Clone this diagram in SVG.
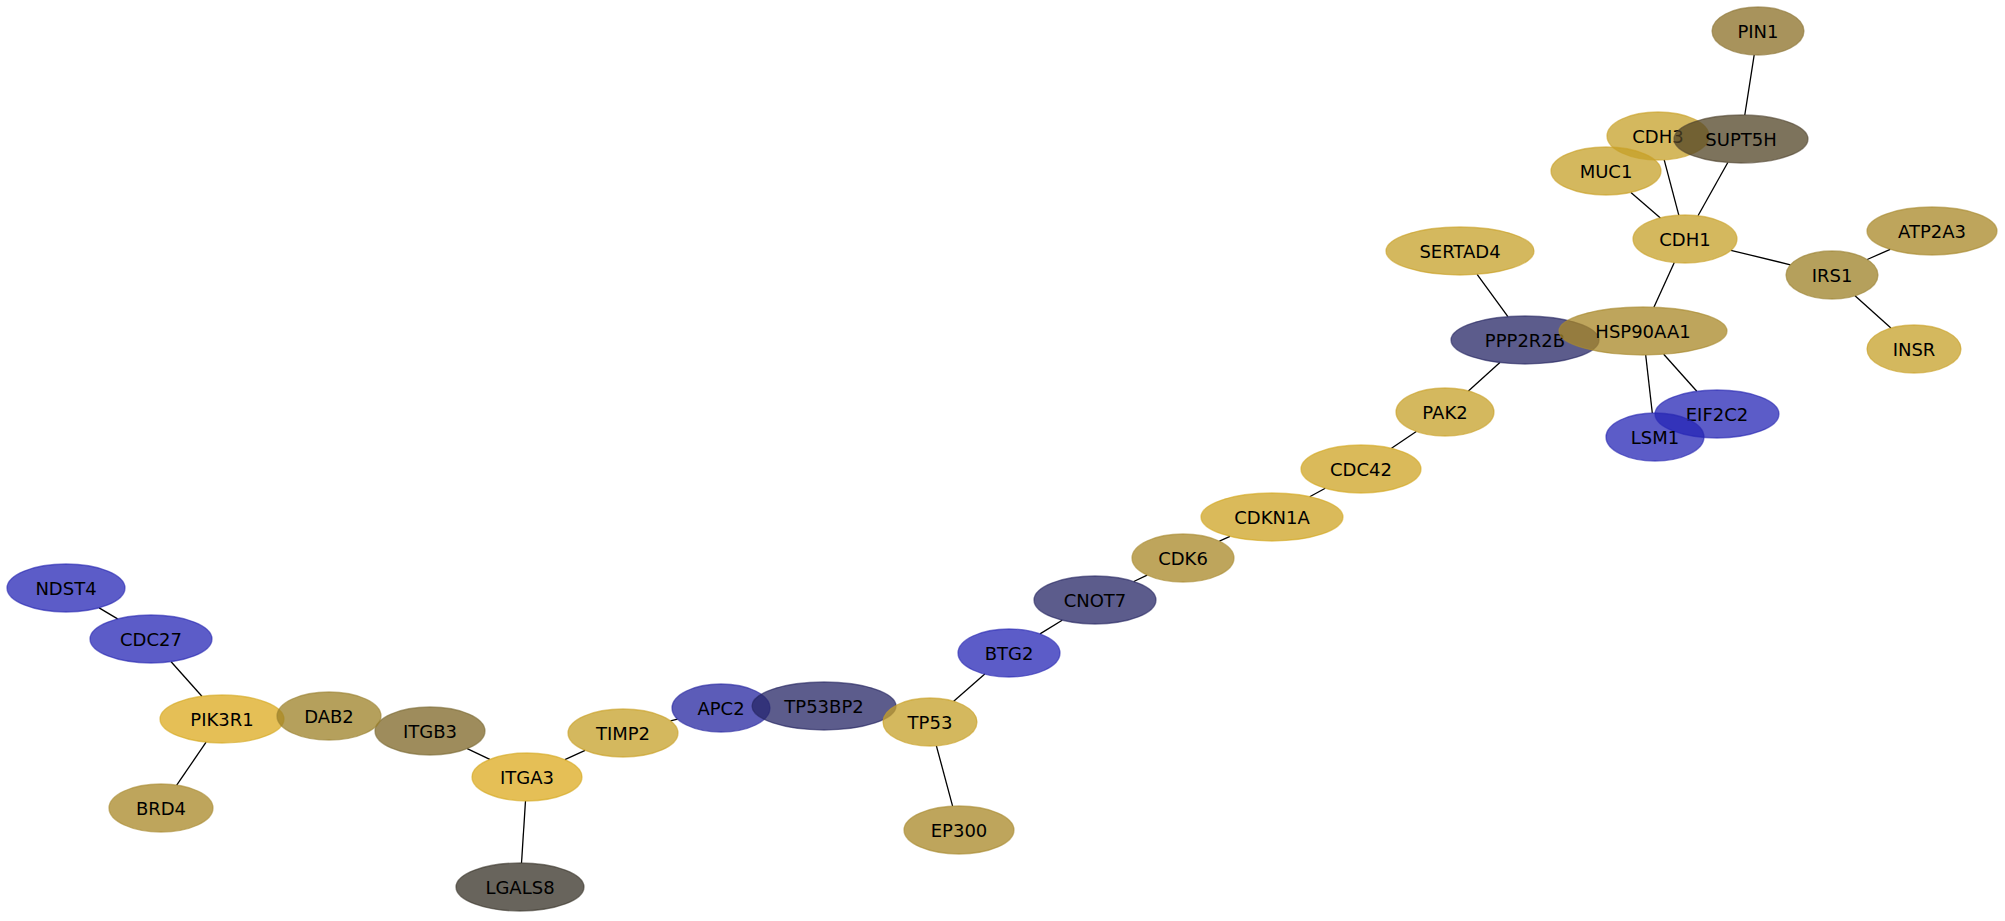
<svg xmlns="http://www.w3.org/2000/svg" width="2005" height="921" viewBox="0 0 2005 921">
<style>
.e{stroke:#000;stroke-width:1.3;fill:none}
ellipse{stroke-width:1.3}
.y{fill:rgb(198,160,40);fill-opacity:.75;stroke:#c9a025;stroke-opacity:.6}
.yb{fill:rgb(205,163,35);fill-opacity:.75;stroke:#d4a820;stroke-opacity:.6}
.yc{fill:rgb(220,170,30);fill-opacity:.75;stroke:#d4a820;stroke-opacity:.6}
.t{fill:rgb(168,135,38);fill-opacity:.75;stroke:#a88a30;stroke-opacity:.6}
.t2{fill:rgb(156,128,38);fill-opacity:.75;stroke:#9a8030;stroke-opacity:.6}
.p{fill:rgb(139,111,38);fill-opacity:.75;stroke:#8c7535;stroke-opacity:.6}
.g{fill:rgb(126,102,38);fill-opacity:.75;stroke:#7c6a35;stroke-opacity:.6}
.s{fill:rgb(82,68,38);fill-opacity:.75;stroke:#504530;stroke-opacity:.6}
.l{fill:rgb(54,48,38);fill-opacity:.75;stroke:#3a352c;stroke-opacity:.6}
.n{fill:rgb(38,38,102);fill-opacity:.75;stroke:#262660;stroke-opacity:.6}
.b{fill:rgb(38,38,182);fill-opacity:.75;stroke:#2626b0;stroke-opacity:.6}
.b2{fill:rgb(38,38,160);fill-opacity:.75;stroke:#2626a0;stroke-opacity:.6}
text{font-family:"DejaVu Sans",sans-serif;font-size:18px;fill:#000;text-anchor:middle;dominant-baseline:central}
</style>
<g id="edges">
<line class="e" x1="1754.2" y1="54.9" x2="1744.8" y2="115"/>
<line class="e" x1="1664.2" y1="159.8" x2="1678.8" y2="215.2"/>
<line class="e" x1="1727.8" y1="162.5" x2="1698" y2="215.8"/>
<line class="e" x1="1630.9" y1="192.4" x2="1660.4" y2="217.9"/>
<line class="e" x1="1730.9" y1="250.3" x2="1790.4" y2="264.8"/>
<line class="e" x1="1867.2" y1="259.5" x2="1890.2" y2="249.4"/>
<line class="e" x1="1855" y1="295.8" x2="1890.9" y2="328.1"/>
<line class="e" x1="1674.3" y1="262.5" x2="1653.9" y2="307.2"/>
<line class="e" x1="1645.7" y1="355" x2="1652.3" y2="413"/>
<line class="e" x1="1663.7" y1="354.3" x2="1696.8" y2="391.3"/>
<line class="e" x1="1477.1" y1="274.4" x2="1507.9" y2="316.6"/>
<line class="e" x1="1499.9" y1="362.6" x2="1468.4" y2="390.9"/>
<line class="e" x1="1416.3" y1="431.5" x2="1391.5" y2="448.3"/>
<line class="e" x1="1325.3" y1="488.3" x2="1309.7" y2="496.7"/>
<line class="e" x1="1230" y1="536.4" x2="1219.4" y2="541.2"/>
<line class="e" x1="1147.2" y1="575.1" x2="1133.8" y2="581.5"/>
<line class="e" x1="1062.2" y1="620.2" x2="1040" y2="633.9"/>
<line class="e" x1="984.8" y1="674.1" x2="953.7" y2="701.3"/>
<line class="e" x1="936.4" y1="745.8" x2="952.6" y2="806.2"/>
<line class="e" x1="677.5" y1="719.1" x2="670.5" y2="720.9"/>
<line class="e" x1="585.1" y1="750.4" x2="564.9" y2="759.6"/>
<line class="e" x1="525.5" y1="801" x2="521.5" y2="863"/>
<line class="e" x1="489.8" y1="759.3" x2="467.2" y2="748.7"/>
<line class="e" x1="201.9" y1="696.3" x2="171.1" y2="661.7"/>
<line class="e" x1="206.1" y1="742.2" x2="176.7" y2="785.1"/>
<line class="e" x1="117.6" y1="618.9" x2="99.1" y2="607.9"/>
</g>
<g id="PIN1"><ellipse class="p" cx="1758" cy="31" rx="46" ry="24"/><text x="1758" y="31">PIN1</text></g>
<g id="CDH3"><ellipse class="y" cx="1658" cy="136" rx="51" ry="24"/><text x="1658" y="136">CDH3</text></g>
<g id="SUPT5H"><ellipse class="s" cx="1741" cy="139" rx="67" ry="24"/><text x="1741" y="139">SUPT5H</text></g>
<g id="MUC1"><ellipse class="y" cx="1606" cy="171" rx="55" ry="24"/><text x="1606" y="171">MUC1</text></g>
<g id="CDH1"><ellipse class="y" cx="1685" cy="239" rx="52" ry="24"/><text x="1685" y="239">CDH1</text></g>
<g id="SERTAD4"><ellipse class="y" cx="1460" cy="251" rx="74" ry="24"/><text x="1460" y="251">SERTAD4</text></g>
<g id="IRS1"><ellipse class="t2" cx="1832" cy="275" rx="46" ry="24"/><text x="1832" y="275">IRS1</text></g>
<g id="ATP2A3"><ellipse class="t" cx="1932" cy="231" rx="65" ry="24"/><text x="1932" y="231">ATP2A3</text></g>
<g id="INSR"><ellipse class="y" cx="1914" cy="349" rx="47" ry="24"/><text x="1914" y="349">INSR</text></g>
<g id="PPP2R2B"><ellipse class="n" cx="1525" cy="340" rx="74" ry="24"/><text x="1525" y="340">PPP2R2B</text></g>
<g id="HSP90AA1"><ellipse class="t" cx="1643" cy="331" rx="84" ry="24"/><text x="1643" y="331">HSP90AA1</text></g>
<g id="EIF2C2"><ellipse class="b" cx="1717" cy="414" rx="62" ry="24"/><text x="1717" y="414">EIF2C2</text></g>
<g id="LSM1"><ellipse class="b" cx="1655" cy="437" rx="49" ry="24"/><text x="1655" y="437">LSM1</text></g>
<g id="PAK2"><ellipse class="y" cx="1445" cy="412" rx="49" ry="24"/><text x="1445" y="412">PAK2</text></g>
<g id="CDC42"><ellipse class="yb" cx="1361" cy="469" rx="60" ry="24"/><text x="1361" y="469">CDC42</text></g>
<g id="CDKN1A"><ellipse class="yb" cx="1272" cy="517" rx="71" ry="24"/><text x="1272" y="517">CDKN1A</text></g>
<g id="CDK6"><ellipse class="t" cx="1183" cy="558" rx="51" ry="24"/><text x="1183" y="558">CDK6</text></g>
<g id="CNOT7"><ellipse class="n" cx="1095" cy="600" rx="61" ry="24"/><text x="1095" y="600">CNOT7</text></g>
<g id="BTG2"><ellipse class="b" cx="1009" cy="653" rx="51" ry="24"/><text x="1009" y="653">BTG2</text></g>
<g id="APC2"><ellipse class="b2" cx="721" cy="708" rx="49" ry="24"/><text x="721" y="708">APC2</text></g>
<g id="TP53BP2"><ellipse class="n" cx="824" cy="706" rx="72" ry="24"/><text x="824" y="706">TP53BP2</text></g>
<g id="TP53"><ellipse class="y" cx="930" cy="722" rx="47" ry="24"/><text x="930" y="722">TP53</text></g>
<g id="EP300"><ellipse class="t" cx="959" cy="830" rx="55" ry="24"/><text x="959" y="830">EP300</text></g>
<g id="TIMP2"><ellipse class="y" cx="623" cy="733" rx="55" ry="24"/><text x="623" y="733">TIMP2</text></g>
<g id="ITGA3"><ellipse class="yc" cx="527" cy="777" rx="55" ry="24"/><text x="527" y="777">ITGA3</text></g>
<g id="LGALS8"><ellipse class="l" cx="520" cy="887" rx="64" ry="24"/><text x="520" y="887">LGALS8</text></g>
<g id="ITGB3"><ellipse class="g" cx="430" cy="731" rx="55" ry="24"/><text x="430" y="731">ITGB3</text></g>
<g id="PIK3R1"><ellipse class="yc" cx="222" cy="719" rx="62" ry="24"/><text x="222" y="719">PIK3R1</text></g>
<g id="DAB2"><ellipse class="t2" cx="329" cy="716" rx="52" ry="24"/><text x="329" y="716">DAB2</text></g>
<g id="BRD4"><ellipse class="t" cx="161" cy="808" rx="52" ry="24"/><text x="161" y="808">BRD4</text></g>
<g id="CDC27"><ellipse class="b" cx="151" cy="639" rx="61" ry="24"/><text x="151" y="639">CDC27</text></g>
<g id="NDST4"><ellipse class="b" cx="66" cy="588" rx="59" ry="24"/><text x="66" y="588">NDST4</text></g>
</svg>
